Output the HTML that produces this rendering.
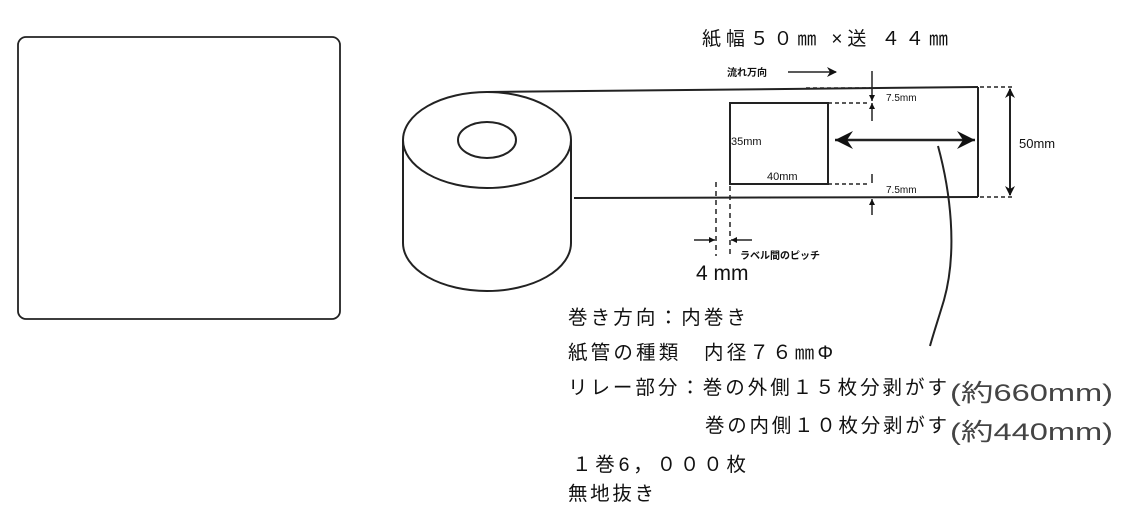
<!DOCTYPE html>
<html><head><meta charset="utf-8"><style>
html,body{margin:0;padding:0;background:#fff;}
svg{display:block;}
text{font-family:"Liberation Sans","Noto Sans CJK JP",sans-serif;fill:#111;}
</style></head><body>
<svg width="1124" height="518" viewBox="0 0 1124 518" xmlns="http://www.w3.org/2000/svg">
<defs>
<marker id="ah" markerWidth="10" markerHeight="10" refX="9" refY="5" orient="auto-start-reverse" markerUnits="userSpaceOnUse"><path d="M0,0 L10,5 L0,10 L3,5 Z" fill="#111"/></marker>
<marker id="ahs" markerWidth="6" markerHeight="6" refX="6" refY="3" orient="auto-start-reverse" markerUnits="userSpaceOnUse"><path d="M0,0 L6,3 L0,6 Z" fill="#111"/></marker>
<marker id="big" markerWidth="20" markerHeight="20" refX="18" refY="10" orient="auto-start-reverse" markerUnits="userSpaceOnUse"><path d="M0,1 L18,10 L0,19 L6,10 Z" fill="#111"/></marker>
</defs>
<g fill="none" stroke="#222" stroke-width="2">
<rect x="18" y="37" width="322" height="282" rx="8" stroke-width="1.8"/>
<ellipse cx="487" cy="140" rx="84" ry="48"/>
<ellipse cx="487" cy="140" rx="29" ry="18"/>
<line x1="403" y1="140" x2="403" y2="243"/>
<line x1="571" y1="140" x2="571" y2="243"/>
<path d="M403,243 A84,48 0 0 0 571,243"/>
<line x1="487" y1="92" x2="978" y2="87"/>
<line x1="574" y1="198" x2="978" y2="197"/>
<line x1="978" y1="87" x2="978" y2="197"/>
<rect x="730" y="103" width="98" height="81"/>
</g>
<g stroke="#222" stroke-width="1.5" fill="none">
<line x1="806" y1="88" x2="870" y2="88" stroke-dasharray="4,3"/>
<line x1="828" y1="103" x2="870" y2="103" stroke-dasharray="4,3"/>
<line x1="828" y1="184" x2="870" y2="184" stroke-dasharray="4,3"/>
<line x1="872" y1="71" x2="872" y2="101" marker-end="url(#ahs)"/>
<line x1="872" y1="121" x2="872" y2="103" marker-end="url(#ahs)"/>
<line x1="872" y1="174" x2="872" y2="183"/>
<line x1="872" y1="215" x2="872" y2="199" marker-end="url(#ahs)"/>
<line x1="980" y1="87" x2="1013" y2="87" stroke-dasharray="4,3"/>
<line x1="980" y1="197" x2="1013" y2="197" stroke-dasharray="4,3"/>
<line x1="1010" y1="142" x2="1010" y2="89" stroke-width="2" marker-end="url(#ah)"/>
<line x1="1010" y1="142" x2="1010" y2="195" stroke-width="2" marker-end="url(#ah)"/>
<line x1="905" y1="140" x2="835" y2="140" stroke-width="2.5" marker-end="url(#big)"/>
<line x1="905" y1="140" x2="975" y2="140" stroke-width="2.5" marker-end="url(#big)"/>
<line x1="716" y1="182" x2="716" y2="256" stroke-dasharray="5,4"/>
<line x1="730" y1="186" x2="730" y2="256" stroke-dasharray="5,4"/>
<line x1="694" y1="240" x2="715" y2="240" marker-end="url(#ahs)"/>
<line x1="752" y1="240" x2="731" y2="240" marker-end="url(#ahs)"/>
<line x1="788" y1="72" x2="836" y2="72" marker-end="url(#ah)"/>
<path d="M938,146 C950,190 958,250 944,300 C938,320 933,335 930,346" stroke-width="2"/>
</g>
<text x="702" y="45" font-size="19" textLength="246" lengthAdjust="spacing">紙幅５０㎜ ×送 ４４㎜</text>
<text x="727" y="76" font-size="10" font-weight="bold">流れ万向</text>
<text x="886" y="101" font-size="10">7.5mm</text>
<text x="886" y="193" font-size="10">7.5mm</text>
<text x="1019" y="148" font-size="13">50mm</text>
<text x="731" y="145" font-size="11">35mm</text>
<text x="767" y="180" font-size="11">40mm</text>
<text x="740" y="259" font-size="10" font-weight="bold">ラベル間のピッチ</text>
<text x="696" y="280" font-size="21">4 mm</text>
<text x="568" y="324" font-size="19.5" textLength="178" lengthAdjust="spacing">巻き方向：内巻き</text>
<text x="568" y="359" font-size="19.5" textLength="265" lengthAdjust="spacing">紙管の種類　内径７６㎜Φ</text>
<text x="568" y="394" font-size="19.5" textLength="379" lengthAdjust="spacing">リレー部分：巻の外側１５枚分剥がす</text>
<text x="705" y="432" font-size="19.5" textLength="242" lengthAdjust="spacing">巻の内側１０枚分剥がす</text>
<text x="572" y="471" font-size="19.5" textLength="174" lengthAdjust="spacing">１巻6，０００枚</text>
<text x="568" y="500" font-size="19.5" textLength="86" lengthAdjust="spacing">無地抜き</text>
<text x="950" y="401" font-size="24" style="fill:#444" textLength="163" lengthAdjust="spacingAndGlyphs">(約660mm)</text>
<text x="950" y="440" font-size="24" style="fill:#444" textLength="163" lengthAdjust="spacingAndGlyphs">(約440mm)</text>
</svg>
</body></html>
